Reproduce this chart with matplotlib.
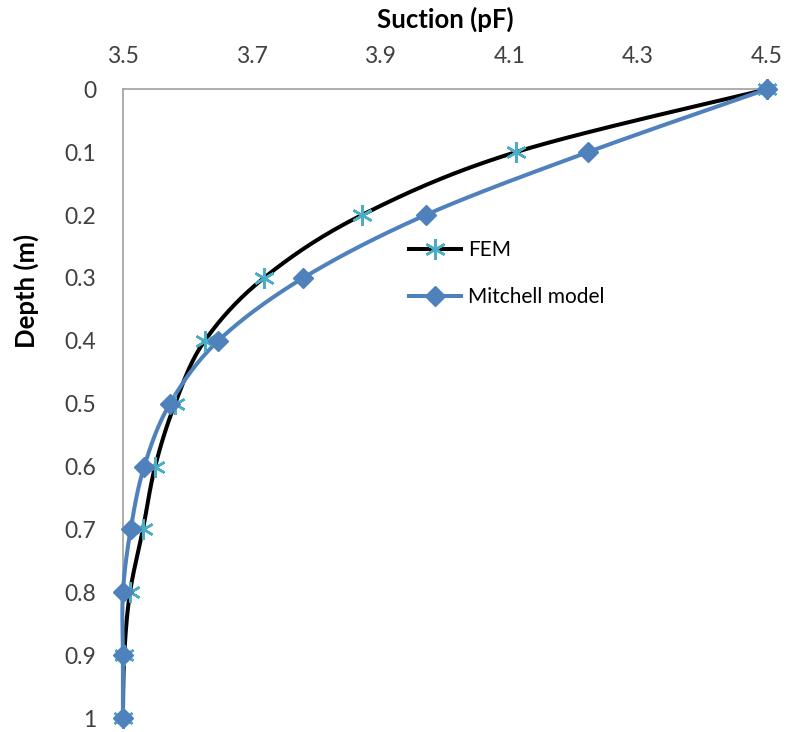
import matplotlib.pyplot as plt
import numpy as np

plt.rcParams['font.family'] = ['Lato', 'DejaVu Sans']

# data
depth = [0, 0.1, 0.2, 0.3, 0.4, 0.5, 0.6, 0.7, 0.8, 0.9, 1.0]
fem = [4.5, 4.11, 3.871, 3.719, 3.627, 3.581, 3.55, 3.531, 3.511, 3.502, 3.5]
mitchell = [4.5, 4.222, 3.97, 3.78, 3.648, 3.573, 3.533, 3.512, 3.5, 3.5, 3.5]
xticks = [3.5, 3.7, 3.9, 4.1, 4.3, 4.5]
yticks = [0, 0.1, 0.2, 0.3, 0.4, 0.5, 0.6, 0.7, 0.8, 0.9, 1]


def smooth(x, y, n=30):
    # Catmull-Rom style smoothing, similar to spreadsheet "smoothed line"
    p = np.column_stack([x, y]).astype(float)
    p = np.vstack([p[0], p, p[-1]])
    out = []
    t = np.linspace(0, 1, n)[:, None]
    for i in range(1, len(p) - 2):
        p0, p1, p2, p3 = p[i - 1], p[i], p[i + 1], p[i + 2]
        seg = 0.5 * ((2 * p1) + (-p0 + p2) * t
                     + (2 * p0 - 5 * p1 + 4 * p2 - p3) * t ** 2
                     + (-p0 + 3 * p1 - 3 * p2 + p3) * t ** 3)
        out.append(seg)
    out = np.vstack(out)
    return out[:, 0], out[:, 1]


fig = plt.figure(figsize=(7.88, 7.32), dpi=100)
ax = fig.add_axes([0.156, 0.019, 0.817, 0.859])

lw = 2.9
sx, sy = smooth(fem, depth)
ax.plot(sx, sy, color='black', lw=lw, zorder=2)
ax.plot(fem, depth, ls='none', marker=(6, 2, 0), ms=15, mew=1.8,
        color='#4bacc6', zorder=4)
mx, my = smooth(mitchell, depth)
ax.plot(mx, my, color='#4f81bd', lw=lw, zorder=3)
ax.plot(mitchell, depth, ls='none', marker='D', ms=10.5, color='#4f81bd', zorder=5)

# legend proxies
ax.plot([], [], color='black', lw=lw, marker=(6, 2, 0), ms=15, mew=1.8,
        mec='#4bacc6', label='FEM')
ax.plot([], [], color='#4f81bd', lw=lw, marker='D', ms=10.5, label='Mitchell model')
ax.legend(loc='upper left', bbox_to_anchor=(0.415, 0.79), frameon=False,
          fontsize=15, handlelength=2.5, labelspacing=1.3, handletextpad=0.35)

ax.set_xlim(3.5, 4.5)
ax.set_ylim(1, 0)
ax.set_xticks(xticks)
ax.set_yticks(yticks)
ax.set_yticklabels([f'{v:g}' for v in yticks])
ax.xaxis.tick_top()
ax.xaxis.set_label_position('top')
ax.tick_params(length=0, labelsize=16.5, colors='#404040', pad=16)
ax.tick_params(axis='y', pad=19)
ax.set_xlabel('Suction (pF)', fontsize=18.5, fontweight='bold', labelpad=13)
ax.set_ylabel('Depth (m)', fontsize=18.5, fontweight='bold')
ax.yaxis.set_label_coords(-0.13, 0.679)

for s in ['right', 'bottom']:
    ax.spines[s].set_visible(False)
for s in ['left', 'top']:
    ax.spines[s].set_color('#a0a0a0')
    ax.spines[s].set_linewidth(1.2)
for ln in ax.lines:
    ln.set_clip_on(False)

fig.savefig('out.png', dpi=100)
